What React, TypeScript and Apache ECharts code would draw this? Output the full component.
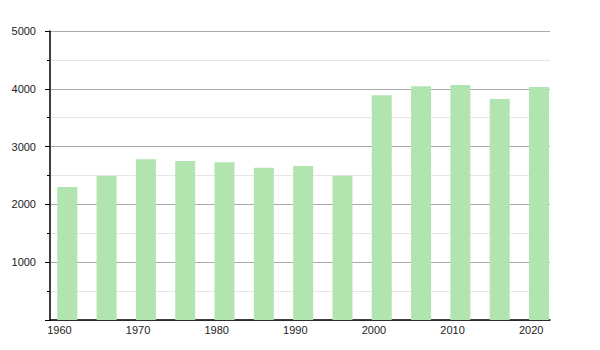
import React, { useEffect, useRef } from "react";
import * as echarts from "echarts";

const years = [1961, 1966, 1971, 1976, 1981, 1986, 1991, 1996, 2001, 2006, 2011, 2016, 2021];
const population = [2300, 2490, 2780, 2750, 2730, 2635, 2665, 2495, 3890, 4045, 4065, 3825, 4030];
const xTickLabels = [1960, 1970, 1980, 1990, 2000, 2010, 2020];
const yTicks = [0, 1000, 2000, 3000, 4000, 5000];

export default function App() {
  const ref = useRef<HTMLDivElement>(null);
  useEffect(() => {
    document.body.style.margin = "0";
    const chart = echarts.init(ref.current!, null, { renderer: "svg" });
    const font = "'Liberation Sans', Arial, sans-serif";
    chart.setOption({
      animation: false,
      backgroundColor: "#ffffff",
      grid: { left: 50, right: 50, top: 31, bottom: 30, containLabel: false },
      xAxis: {
        type: "value",
        min: 1958.8,
        max: 2022.4,
        axisLine: { show: true, onZero: false, lineStyle: { color: "#000", width: 1.5 } },
        axisTick: { show: false },
        splitLine: { show: false },
        axisLabel: {
          customValues: xTickLabels,
          fontSize: 11,
          color: "#222",
          fontFamily: font,
          margin: 4,
          formatter: (v: number) => String(v),
        },
      },
      yAxis: {
        type: "value",
        min: yTicks[0],
        max: yTicks[yTicks.length - 1],
        interval: 1000,
        axisLine: { show: true, lineStyle: { color: "#000", width: 1.5 } },
        axisTick: { show: true, length: 5, lineStyle: { color: "#000" } },
        minorTick: { show: true, splitNumber: 2, length: 3, lineStyle: { color: "#000" } },
        splitLine: { show: true, lineStyle: { color: "#aaaaaa", width: 1 } },
        minorSplitLine: { show: true, lineStyle: { color: "#e6e6e6", width: 1 } },
        axisLabel: {
          fontSize: 11,
          color: "#222",
          fontFamily: font,
          margin: 14,
          showMinLabel: false,
          formatter: (v: number) => String(v),
        },
      },
      series: [
        {
          type: "bar",
          barWidth: 20,
          itemStyle: { color: "#b2e4b0" },
          data: years.map((y, i) => [y, population[i]]),
        },
      ],
    });
    return () => chart.dispose();
  }, []);
  return <div ref={ref} style={{ width: 600, height: 350 }} />;
}
